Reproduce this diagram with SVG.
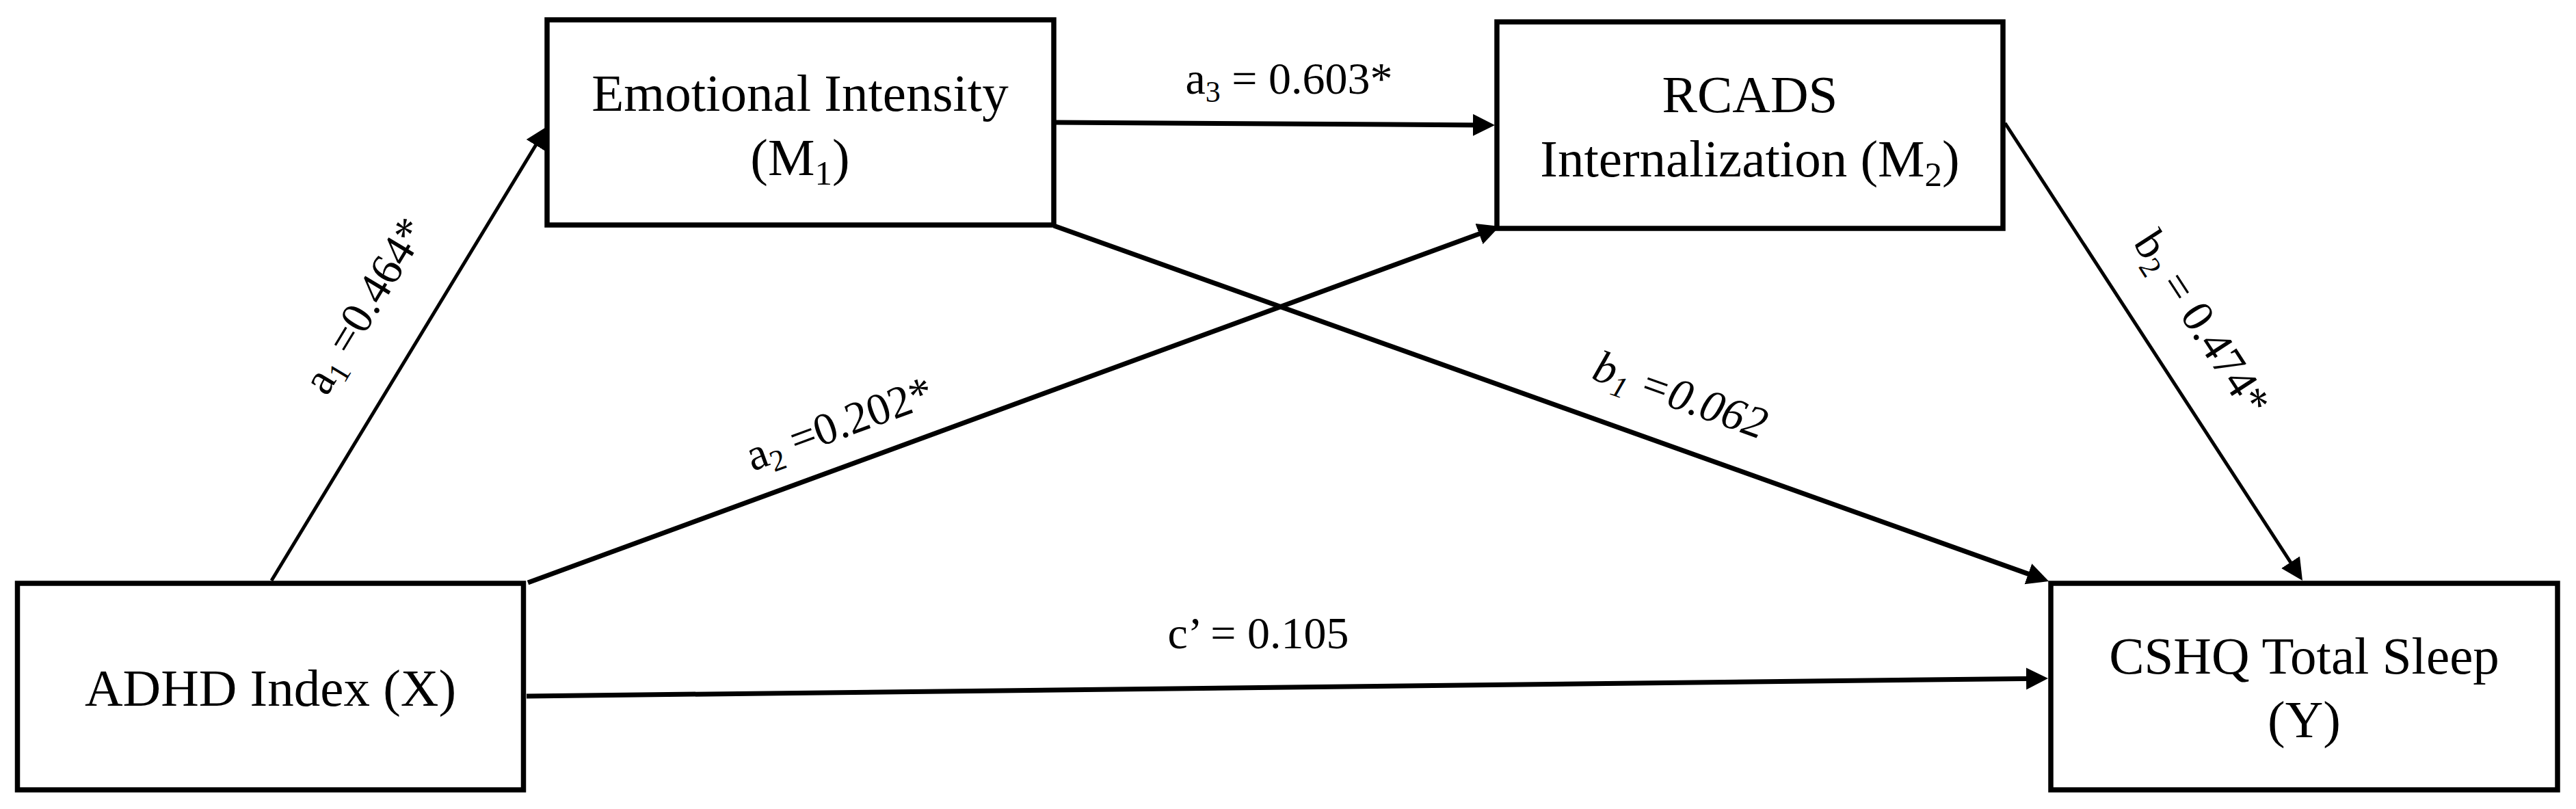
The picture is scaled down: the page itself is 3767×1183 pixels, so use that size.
<svg xmlns="http://www.w3.org/2000/svg" width="3767" height="1183" viewBox="0 0 3767 1183">
<style>
.box{fill:#fff;stroke:#000;stroke-width:7.5}
.nt{font-family:"Liberation Serif","Times New Roman",serif;font-size:77px;fill:#000;text-anchor:middle}
.lb{font-family:"Liberation Serif","Times New Roman",serif;font-size:66px;fill:#000;text-anchor:middle}
.ns{font-size:51px}
.ls{font-size:44px}
.thick{stroke:#000;stroke-width:7;fill:none;marker-end:url(#ah)}
.thin{stroke:#000;stroke-width:5;fill:none;marker-end:url(#ah)}
</style>
<defs>
<marker id="ah" markerUnits="userSpaceOnUse" markerWidth="34" markerHeight="34" refX="16" refY="16" orient="auto" viewBox="0 0 34 32">
<path d="M0,0 L32,16 L0,32 z" fill="#000"/>
</marker>
</defs>
<rect width="3767" height="1183" fill="#fff"/>
<g id="connectors">
<line id="e-a1" class="thin" x1="397" y1="849" x2="791.7" y2="198.7"/>
<line id="e-a2" class="thick" x1="772" y1="852" x2="2178" y2="336.5"/>
<line id="e-a3" class="thick" x1="1541" y1="179" x2="2170" y2="182.9"/>
<line id="e-b1" class="thick" x1="1541" y1="330" x2="2981" y2="844.6"/>
<line id="e-b2" class="thin" x1="2932" y1="180" x2="3358.3" y2="835.6"/>
<line id="e-c" class="thick" x1="770" y1="1018" x2="2979" y2="992.2"/>
<text class="lb" transform="translate(552,458) rotate(-58.8)">a<tspan class="ls" dy="12">1</tspan><tspan dy="-12"> =0.464*</tspan></text>
<text class="lb" transform="translate(1235,640) rotate(-20.15)">a<tspan class="ls" dy="12">2</tspan><tspan dy="-12"> =0.202*</tspan></text>
<text class="lb" x="1885" y="137">a<tspan class="ls" dy="12">3</tspan><tspan dy="-12"> = 0.603*</tspan></text>
<text class="lb" font-style="italic" transform="translate(2450,598) rotate(19.67)">b<tspan class="ls" dy="12">1</tspan><tspan dy="-12"> =0.062</tspan></text>
<text class="lb" transform="translate(3202,484) rotate(56.96)">b<tspan class="ls" dy="12">2</tspan><tspan dy="-12"> = 0.474*</tspan></text>
<text class="lb" x="1840" y="948">c’ = 0.105</text>
</g>
<g id="node-x">
<rect class="box" x="25.5" y="853" width="740" height="302"/>
<text class="nt" x="395.5" y="1032">ADHD Index (X)</text>
</g>
<g id="node-m1">
<rect class="box" x="800" y="29" width="741" height="300"/>
<text class="nt" x="1170" y="162">Emotional Intensity</text>
<text class="nt" x="1170" y="256">(M<tspan class="ns" dy="14">1</tspan><tspan dy="-14">)</tspan></text>
</g>
<g id="node-m2">
<rect class="box" x="2189" y="32" width="740" height="302"/>
<text class="nt" x="2559" y="164">RCADS</text>
<text class="nt" x="2559" y="258">Internalization (M<tspan class="ns" dy="14">2</tspan><tspan dy="-14">)</tspan></text>
</g>
<g id="node-y">
<rect class="box" x="2999" y="853" width="741" height="302"/>
<text class="nt" x="3369.5" y="985">CSHQ Total Sleep</text>
<text class="nt" x="3369.5" y="1078">(Y)</text>
</g>
</svg>
